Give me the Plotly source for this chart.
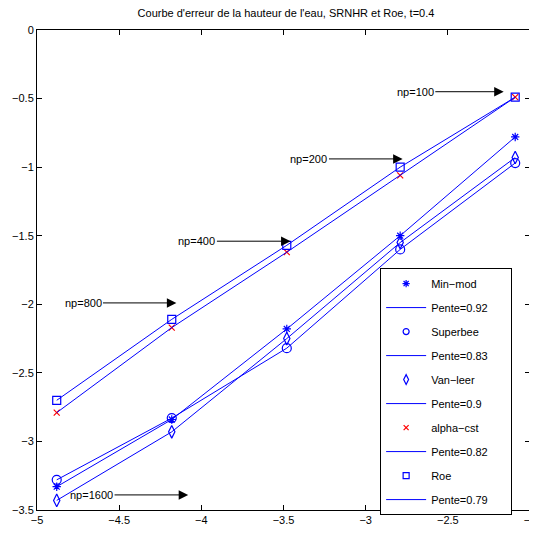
import plotly.graph_objects as go

# abscissas (log of mesh step) for np = 1600, 800, 400, 200, 100
x_vals = [-4.88, -4.18, -3.48, -2.79, -2.09]

minmod = [-3.33, -2.84, -2.18, -1.50, -0.78]
superbee = [-3.28, -2.83, -2.32, -1.60, -0.97]
vanleer = [-3.43, -2.93, -2.25, -1.55, -0.93]
alphacst = [-2.79, -2.17, -1.62, -1.06, -0.49]
roe = [-2.70, -2.11, -1.57, -1.00, -0.49]

series_names = ["Min\u2212mod", "Superbee", "Van\u2212leer", "alpha\u2212cst", "Roe"]
slopes = ["Pente=0.92", "Pente=0.83", "Pente=0.9", "Pente=0.82", "Pente=0.79"]

np_labels = ["np=100", "np=200", "np=400", "np=800", "np=1600"]
np_text_x = [-2.698, -3.345, -4.027, -4.72, -4.668]
np_head_x = [-2.16, -2.775, -3.457, -4.152, -4.08]
np_y = [-0.45, -0.94, -1.54, -1.99, -3.39]

BLUE = "#0000FF"
RED = "#FF0000"
PAD = "\u00a0" * 6

styles = [
    dict(symbol="asterisk-open", size=7, color=BLUE, line=dict(color=BLUE, width=1.2)),
    dict(symbol="circle-open", size=9, color=BLUE, line=dict(color=BLUE, width=1.2)),
    dict(symbol="diamond-tall-open", size=9, color=BLUE, line=dict(color=BLUE, width=1.2)),
    dict(symbol="x-thin-open", size=6, color=RED, line=dict(color=RED, width=1.2)),
    dict(symbol="square-open", size=8, color=BLUE, line=dict(color=BLUE, width=1.2)),
]
legend_sizes = [6, 6, 7, 5, 6]

data = [minmod, superbee, vanleer, alphacst, roe]

fig = go.Figure()
for i, (name, ys, slope, st) in enumerate(zip(series_names, data, slopes, styles)):
    # data marks
    fig.add_trace(go.Scatter(x=x_vals, y=ys, mode="markers", name=name, marker=st,
                             showlegend=False))
    fig.add_trace(go.Scatter(x=x_vals, y=ys, mode="lines", name=slope,
                             line=dict(color=BLUE, width=1), showlegend=False))
    # legend entries
    lst = dict(st)
    lst["size"] = legend_sizes[i]
    fig.add_trace(go.Scatter(x=[None], y=[None], mode="markers", name=name + PAD, marker=lst,
                             legendgroup=f"m{i}"))
    fig.add_trace(go.Scatter(x=[None], y=[None], mode="lines", name=slope + PAD,
                             line=dict(color=BLUE, width=1), legendgroup=f"l{i}"))

for lab, tx, hx, yy in zip(np_labels, np_text_x, np_head_x, np_y):
    fig.add_annotation(x=hx, y=yy, ax=tx, ay=yy, xref="x", yref="y", axref="x", ayref="y",
                       text=lab, showarrow=True, arrowhead=2, arrowsize=1.9, arrowwidth=1,
                       arrowcolor="black", font=dict(size=11, color="black"), standoff=0)

axis_common = dict(showline=True, linecolor="black", linewidth=1, mirror="ticks",
                   ticks="inside", ticklen=5, tickcolor="black", showgrid=False,
                   zeroline=False, tickfont=dict(size=11, color="black"), automargin=False)

fig.update_layout(
    width=529, height=528,
    margin=dict(l=29, r=7, t=22, b=26),
    paper_bgcolor="white", plot_bgcolor="white",
    font=dict(family="Liberation Sans, Arial, sans-serif", size=11, color="black"),
    title=dict(text="Courbe d'erreur de la hauteur de l'eau, SRNHR et Roe, t=0.4",
               x=0.5255, xanchor="center", y=0.99, yanchor="middle",
               font=dict(size=11, color="black"), automargin=False),
    xaxis=dict(range=[-5, -2], dtick=0.5, tick0=-5, **axis_common),
    yaxis=dict(range=[-3.5, 0], dtick=0.5, tick0=-3.5, **axis_common),
    legend=dict(x=0.696, y=0.504, xanchor="left", yanchor="top",
                bordercolor="black", borderwidth=1, bgcolor="white",
                font=dict(size=11, color="black"), tracegroupgap=5, itemwidth=40),
    showlegend=True,
)

fig.write_html("out.html")
